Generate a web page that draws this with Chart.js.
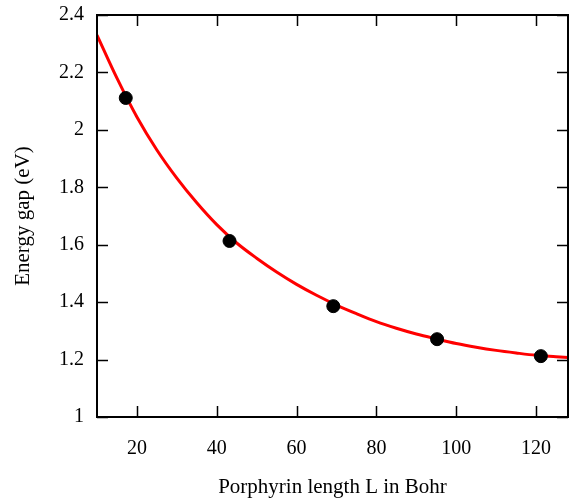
<!DOCTYPE html>
<html>
<head>
<meta charset="utf-8">
<script src="https://cdn.jsdelivr.net/npm/chart.js@4/dist/chart.umd.min.js"></script>
<style>
  html, body { margin: 0; padding: 0; background: #fff; }
  #wrap { width: 569px; height: 500px; }
</style>
</head>
<body>
<div id="wrap"><canvas id="grafico" width="569" height="500"></canvas></div>
<script>
// Pontos calculados (L em Bohr, gap em eV)
var lengths = [17.2, 43.2, 69.2, 95.2, 121.2];
var gaps = [2.111, 1.613, 1.386, 1.271, 1.212];

// Curva de ajuste
var fitL = [10, 15, 20, 25, 30, 35, 40, 45, 50, 55, 60, 65, 70, 75, 80, 85, 90, 95, 100, 105, 110, 115, 120, 125, 128];
var fitE = [2.33, 2.18, 2.045, 1.93, 1.832, 1.746, 1.67, 1.606, 1.553, 1.505, 1.462, 1.424, 1.39, 1.36, 1.332, 1.309, 1.289, 1.272, 1.256, 1.243, 1.232, 1.223, 1.215, 1.21, 1.207];

// Ticks dos eixos
var xTicks = [20, 40, 60, 80, 100, 120];
var yTicks = [1, 1.2, 1.4, 1.6, 1.8, 2, 2.2, 2.4];

var serif = "'Liberation Serif', 'Times New Roman', serif";
var tickFont = { family: serif, size: 20 };
var titleFont = { family: serif, size: 21 };

var toXY = function(xs, ys) {
    return xs.map(function(x, i) { return { x: x, y: ys[i] }; });
};

// Sem padding extra dos rotulos
var noPad = function(s) {
    s.paddingTop = 0; s.paddingBottom = 0;
    s.paddingLeft = 0; s.paddingRight = 0;
};

// Moldura e ticks para dentro
var framePlugin = {
    id: 'frame',
    afterDraw: function(chart) {
        var ctx = chart.ctx;
        var a = chart.chartArea;
        var sx = chart.scales.x, sy = chart.scales.y;
        var len = 11;
        ctx.save();
        ctx.strokeStyle = '#000';
        ctx.lineWidth = 1.5;
        ctx.beginPath();
        xTicks.forEach(function(v) {
            var p = Math.round(sx.getPixelForValue(v)) + 0.5;
            ctx.moveTo(p, a.bottom); ctx.lineTo(p, a.bottom - len);
            ctx.moveTo(p, a.top); ctx.lineTo(p, a.top + len);
        });
        yTicks.forEach(function(v) {
            var p = Math.round(sy.getPixelForValue(v)) + 0.5;
            ctx.moveTo(a.left, p); ctx.lineTo(a.left + len, p);
            ctx.moveTo(a.right, p); ctx.lineTo(a.right - len, p);
        });
        ctx.stroke();
        ctx.lineWidth = 2;
        ctx.strokeRect(a.left, a.top, a.right - a.left, a.bottom - a.top);
        ctx.restore();
    }
};

var context = document.getElementById("grafico").getContext('2d');
var chart = new Chart(context, {
    type: 'scatter',
    data: {
        datasets: [{
            data: toXY(lengths, gaps),
            backgroundColor: '#000',
            borderColor: '#000',
            pointRadius: 6.5,
            pointHoverRadius: 6.5
        }, {
            type: 'line',
            data: toXY(fitL, fitE),
            borderColor: '#ff0000',
            borderWidth: 3,
            pointRadius: 0,
            fill: false,
            cubicInterpolationMode: 'monotone'
        }]
    },
    options: {
        responsive: false,
        animation: false,
        layout: { autoPadding: false, padding: { top: 15, right: 1, left: 0, bottom: 0 } },
        plugins: {
            legend: { display: false },
            tooltip: { enabled: false }
        },
        scales: {
            x: {
                type: 'linear',
                min: 10,
                max: 128,
                grid: { display: false },
                border: { display: false },
                afterBuildTicks: function(s) { s.ticks = xTicks.map(function(v) { return { value: v }; }); },
                afterFit: function(s) { s.height = 83; noPad(s); },
                ticks: { color: '#000', font: tickFont, padding: 12, maxRotation: 0,
                         callback: function(v) { return String(v); } },
                title: { display: true, text: 'Porphyrin length L in Bohr', color: '#000', font: titleFont, padding: { top: 0, bottom: 0 } }
            },
            y: {
                type: 'linear',
                min: 1,
                max: 2.4,
                grid: { display: false },
                border: { display: false },
                afterBuildTicks: function(s) { s.ticks = yTicks.map(function(v) { return { value: v }; }); },
                afterFit: function(s) { s.width = 97; noPad(s); },
                ticks: { color: '#000', font: tickFont, padding: 5,
                         callback: function(v) { return String(v); } },
                title: { display: true, text: 'Energy gap (eV)', color: '#000', font: titleFont, padding: { top: 11, bottom: 0 } }
            }
        }
    },
    plugins: [framePlugin]
});
</script>
</body>
</html>
